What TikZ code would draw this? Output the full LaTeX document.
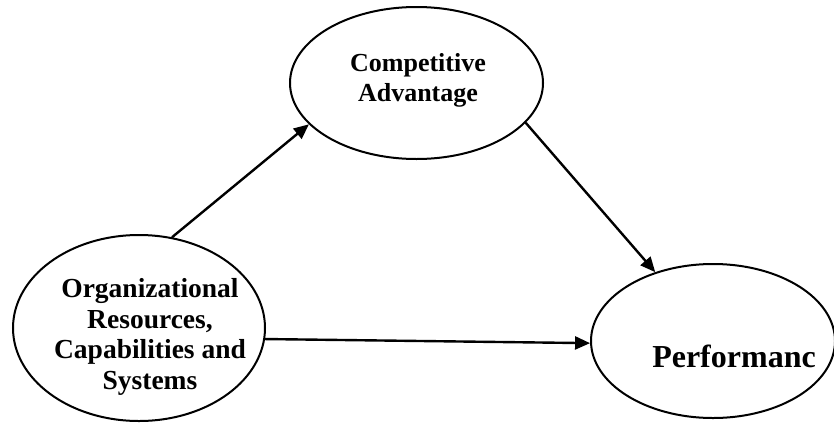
\documentclass[tikz,border=0pt]{standalone}
\usepackage{fontspec}
\setmainfont{Liberation Serif}
\usetikzlibrary{arrows.meta,shapes.geometric}
\begin{document}
\begin{tikzpicture}[x=1pt,y=-1pt,
  ell/.style={draw, line width=2pt, ellipse, inner sep=0pt},
  lbl/.style={align=center, inner sep=0pt, font=\bfseries},
  arr/.style={line width=2.4pt, -{Triangle[length=15pt,width=13pt]}}]
\useasboundingbox (0,0) rectangle (834,423);
\node[ell, minimum width=253pt, minimum height=152pt] (T) at (416.5,83) {};
\node[ell, minimum width=252pt, minimum height=186pt] (L) at (139,328) {};
\node[ell, minimum width=244pt, minimum height=154pt] (R) at (713,341) {};
\node[lbl, font=\bfseries\fontsize{26}{30}\selectfont] (tT) at (418,80.7) {Competitive\\Advantage};
\node[lbl, font=\bfseries\fontsize{27.5}{30.7}\selectfont] (tL) at (150,337) {Organizational\\Resources,\\Capabilities and\\Systems};
\node[lbl, font=\bfseries\fontsize{32}{36}\selectfont, anchor=base] (tR) at (734,367) {Performanc};
\draw[arr] (L.70) -- (T.201);
\draw[arr] (T.-20) -- (R.130);
\draw[arr] (L.-5) -- (R.181);
\end{tikzpicture}
\end{document}
